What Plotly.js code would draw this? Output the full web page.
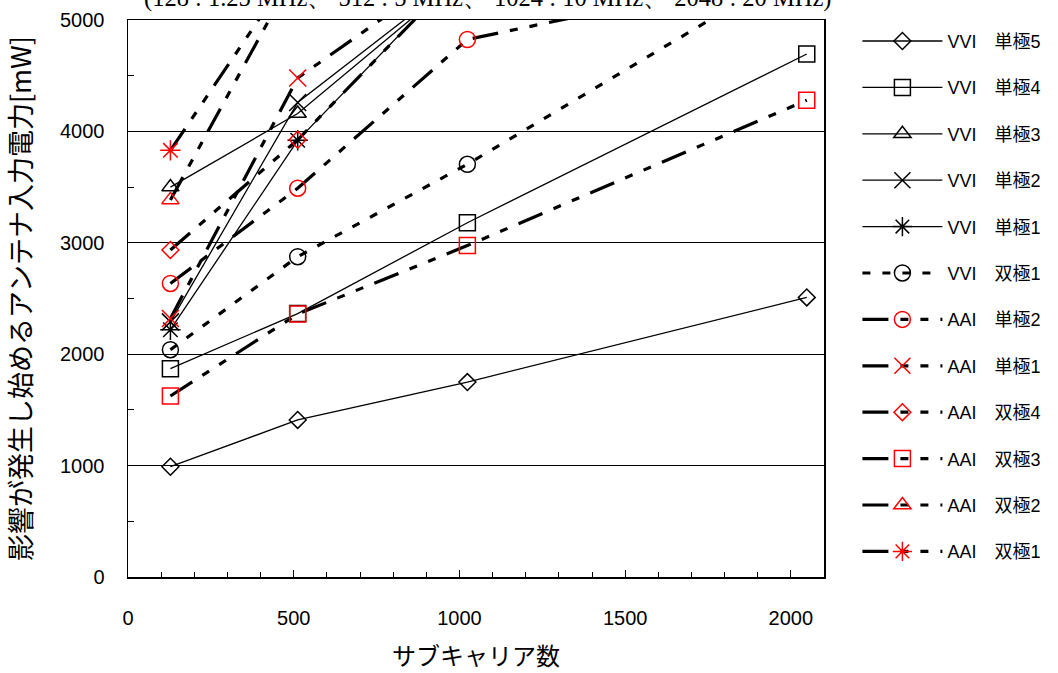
<!DOCTYPE html>
<html><head><meta charset="utf-8">
<script src="https://cdn.plot.ly/plotly-3.0.1.min.js"></script>
<style>html,body{margin:0;padding:0;background:#fff}</style>
</head><body><div id="chart" style="width:1058px;height:673px"></div>
<script>
// Data (x = number of subcarriers, y = power [mW])
const subcarriers = [128, 512, 1024, 2048];
const seriesNames = ["VVI\u3000単極5","VVI\u3000単極4","VVI\u3000単極3","VVI\u3000単極2","VVI\u3000単極1","VVI\u3000双極1",
                     "AAI\u3000単極2","AAI\u3000単極1","AAI\u3000双極4","AAI\u3000双極3","AAI\u3000双極2","AAI\u3000双極1"];
const vviUni5 = [990, 1410, 1750, 2510];
const vviUni4 = [1870, 2365, 3180, 4695];
const vviUni3 = [3500, 4160, 5430, null];
const vviUni2 = [2290, 4260, 5440, null];
const vviUni1 = [2220, 3920, 5500, null];
const vviBi1  = [2040, 2875, 3705, 5520];
const aaiUni2 = [2635, 3490, 4825, 5460];
const aaiUni1 = [2320, 4480, 5550, null];
const aaiBi4  = [2935, 3925, 5490, null];
const aaiBi3  = [1625, 2360, 2975, 4280];
const aaiBi2  = [3385, 5470, null, null];
const aaiBi1  = [3830, 5520, null, null];
const subtitle = "(128 : 1.25 MHz、 512 : 5 MHz、 1024 : 10 MHz、 2048 : 20 MHz)";

const seriesValues = [vviUni5, vviUni4, vviUni3, vviUni2, vviUni1, vviBi1, aaiUni2, aaiUni1, aaiBi4, aaiBi3, aaiBi2, aaiBi1];
const symbols = ["diamond-open","square-open","triangle-up-open","x-thin-open","asterisk-open","circle-open",
                 "circle-open","x-thin-open","diamond-open","square-open","triangle-up-open","asterisk-open"];
const sizes = [13, 16, 15, 17, 17, 16, 16, 17, 13, 16, 15, 17];
const AAI_DASH = "26px,12px,8px,12px,8px,12px";
const styles = [
  {w:1.3, dash:"solid", c:"#000"},{w:1.3, dash:"solid", c:"#000"},{w:1.3, dash:"solid", c:"#000"},
  {w:1.3, dash:"solid", c:"#000"},{w:1.3, dash:"solid", c:"#000"},{w:3.2, dash:"8px,12px", c:"#000"},
  {w:3.2, dash:AAI_DASH, c:"#f00"},{w:3.2, dash:AAI_DASH, c:"#f00"},{w:3.2, dash:AAI_DASH, c:"#f00"},
  {w:3.2, dash:AAI_DASH, c:"#f00"},{w:3.2, dash:AAI_DASH, c:"#f00"},{w:3.2, dash:AAI_DASH, c:"#f00"}
];

const traces = seriesNames.map((name, i) => ({
  type: "scatter", mode: "lines+markers", name: name,
  x: subcarriers, y: seriesValues[i], legendgroup: "g" + i,
  line: {color: "#000", width: styles[i].w, dash: styles[i].dash},
  marker: {symbol: symbols[i], size: sizes[i], color: styles[i].c, line: {color: styles[i].c, width: 1.5}},
  cliponaxis: true
}));

const layout = {
  width: 1058, height: 673,
  margin: {l: 128, r: 230, t: 20, b: 96},
  paper_bgcolor: "#fff", plot_bgcolor: "#fff",
  font: {family: "Liberation Sans, Noto Sans CJK JP, sans-serif", color: "#000"},
  showlegend: true,
  legend: {x: 1.048, xanchor: "left", y: 0.995, yanchor: "top", tracegroupgap: 20, itemwidth: 80,
           font: {size: 18, family: "Liberation Sans, Noto Sans CJK JP, sans-serif"}, bgcolor: "rgba(0,0,0,0)"},
  xaxis: {
    range: [0, 2100], dtick: 500, tick0: 0, ticks: "inside", ticklen: 7, tickcolor: "#000",
    minor: {dtick: 100, ticks: "inside", ticklen: 5, tickcolor: "#000"},
    showgrid: false, zeroline: false, showline: true, linecolor: "#000", linewidth: 1.5, mirror: true,
    tickfont: {size: 20, family: "Liberation Sans, sans-serif"}, ticklabelstandoff: 22,
    title: {text: "サブキャリア数", font: {size: 24, family: "Noto Sans CJK JP"}, standoff: 20}
  },
  yaxis: {
    range: [0, 5000], dtick: 1000, tick0: 0, ticks: "inside", ticklen: 6, tickcolor: "#000",
    minor: {dtick: 500, ticks: "inside", ticklen: 6, tickcolor: "#000"},
    showgrid: true, gridcolor: "#000", gridwidth: 1, zeroline: false,
    showline: true, linecolor: "#000", linewidth: 1.5, mirror: true,
    tickfont: {size: 20, family: "Liberation Sans, sans-serif"}, ticklabelstandoff: 18,
    title: {text: "影響が発生し始めるアンテナ入力電力[mW]", font: {size: 27, family: "Noto Sans CJK JP"}, standoff: 22}
  },
  annotations: [{
    text: subtitle, xref: "paper", yref: "paper", x: 0.516, y: 1.0395, xanchor: "center", yanchor: "middle",
    showarrow: false, font: {size: 24.5, family: "Liberation Serif, DejaVu Serif, serif"}
  }]
};

Plotly.newPlot("chart", traces, layout, {displayModeBar: false, staticPlot: true});
</script>
</body></html>
